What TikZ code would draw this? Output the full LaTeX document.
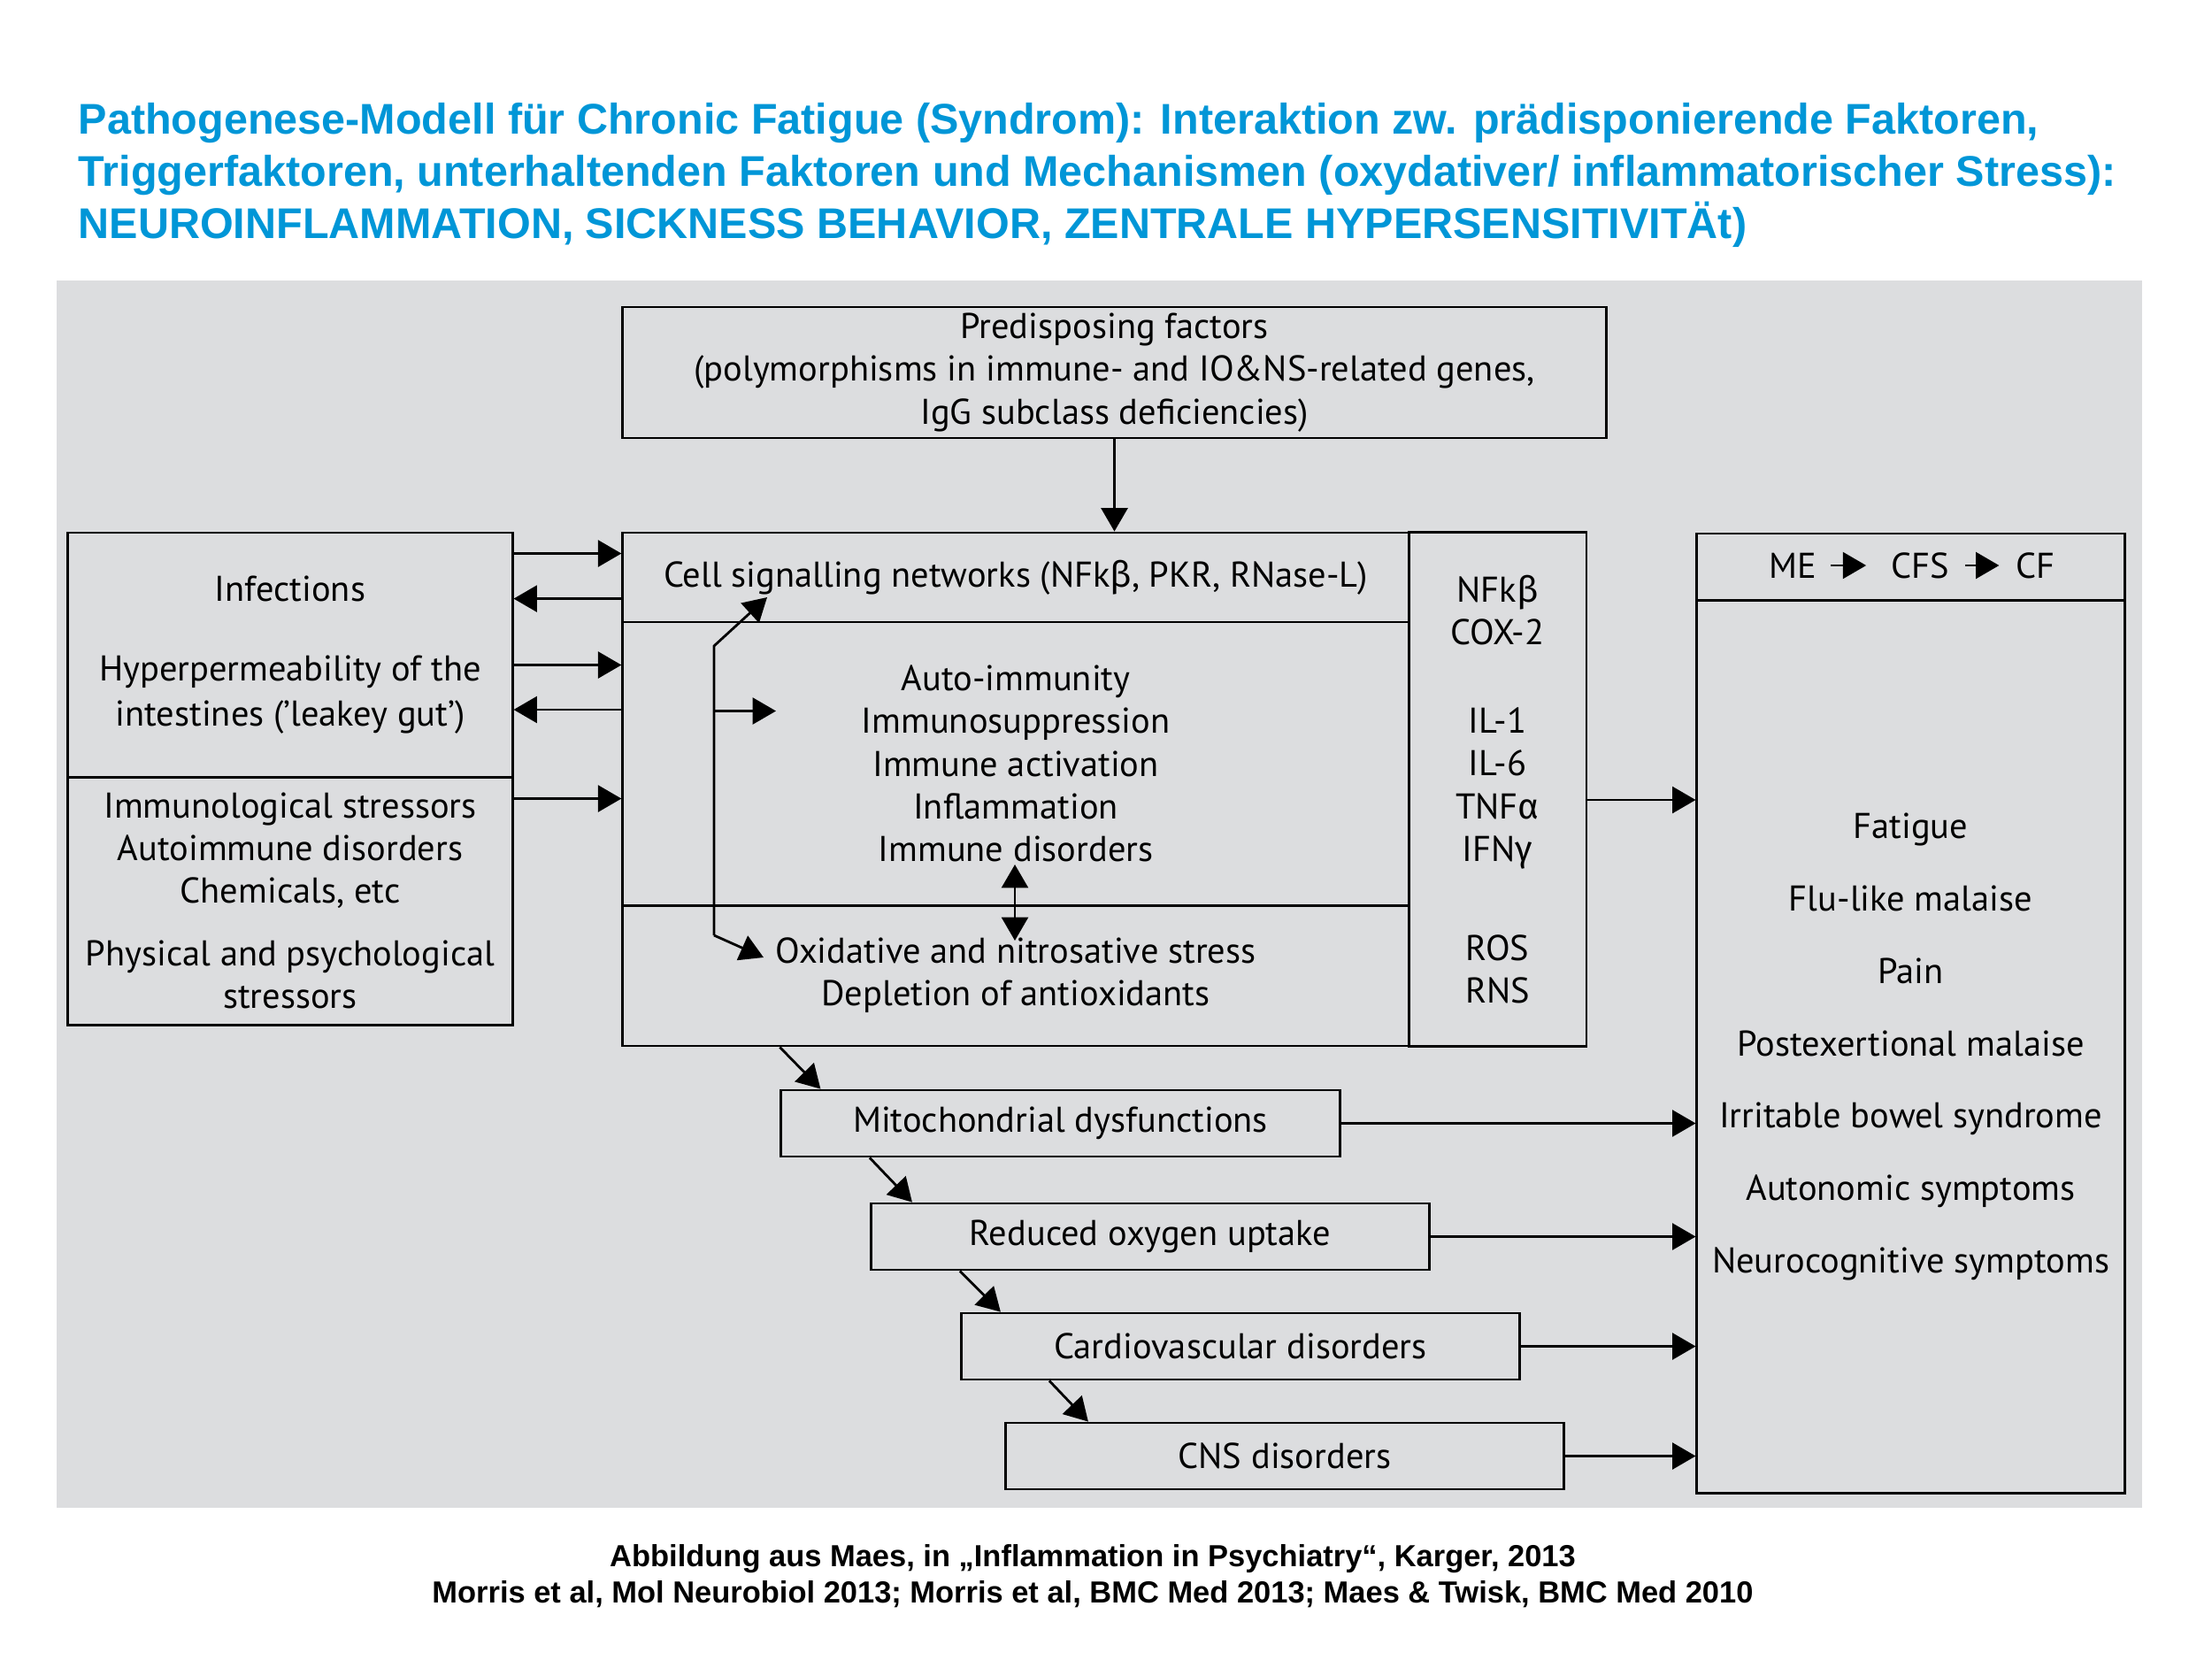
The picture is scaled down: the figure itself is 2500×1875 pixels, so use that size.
\documentclass[tikz,border=0pt]{standalone}
\usepackage{fontspec}
\setmainfont{PT Sans}
\newfontfamily\titlefont{Liberation Sans}
\newfontfamily\grk{Fira Sans}
\usetikzlibrary{arrows.meta, positioning, calc}
\definecolor{titleblue}{RGB}{0,150,215}
\definecolor{panelgray}{RGB}{220,221,223}

\begin{document}
\begin{tikzpicture}[
    x=0.01cm, y=-0.01cm,
    font=\fontsize{11.5}{13.7}\selectfont,
    every node/.style={align=center},
    box/.style   ={rectangle, draw, line width=0.8pt, inner sep=0pt},
    casc/.style  ={box, minimum width=6.31cm, minimum height=0.75cm},
    arr/.style   ={-{Triangle[length=7.5pt,width=8.5pt]}, line width=0.8pt},
    dblarr/.style={{Triangle[length=7.5pt,width=8.5pt]}-{Triangle[length=7.5pt,width=8.5pt]}, line width=0.8pt}
]
\useasboundingbox (0,0) rectangle (2500,1875);

% Title and source
\node[anchor=west, align=left, inner sep=0pt, text=titleblue,
      font=\titlefont\bfseries\fontsize{13.8}{16.8}\selectfont] (title) at (88,198)
  {Pathogenese-Modell für Chronic Fatigue (Syndrom): Interaktion zw. prädisponierende Faktoren,\\
   Triggerfaktoren, unterhaltenden Faktoren und Mechanismen (oxydativer/ inflammatorischer Stress):\\
   NEUROINFLAMMATION, SICKNESS BEHAVIOR, ZENTRALE HYPERSENSITIVITÄt)};
\node[font=\titlefont\bfseries\fontsize{9.8}{11.8}\selectfont] (src) at (1235,1781)
  {Abbildung aus Maes, in „Inflammation in Psychiatry“, Karger, 2013\\
   Morris et al, Mol Neurobiol 2013; Morris et al, BMC Med 2013; Maes \& Twisk, BMC Med 2010};

% Panel
\fill[panelgray] (64,317) rectangle (2421,1704);

% Top
\node[box, minimum width=11.11cm, minimum height=1.48cm] (pre) at (1259.5,421)
  {Predisposing factors\\(polymorphisms in immune- and IO\&NS-related genes,\\IgG subclass deficiencies)};

% Left column
\node[box, minimum width=5.02cm, minimum height=2.76cm] (inf) at (328,740)
  {Infections\\[11.9pt]Hyperpermeability of the\\[1pt]intestines (’leakey gut’)};
\node[box, minimum width=5.02cm, minimum height=2.80cm] (stress) at (328,1018)
  {Immunological stressors\\Autoimmune disorders\\Chemicals, etc\\[6.5pt]Physical and psychological\\stressors};

% Middle block
\node[box, minimum width=8.88cm, minimum height=1.01cm] (cell) at (1148,652.5)
  {Cell signalling networks (NFk{\grk β}, PKR, RNase-L)};
\node[box, minimum width=8.88cm, minimum height=3.20cm] (imm) at (1148,863)
  {Auto-immunity\\Immunosuppression\\Immune activation\\Inflammation\\Immune disorders};
\node[box, minimum width=8.88cm, minimum height=1.59cm] (oxi) at (1148,1102.5)
  {Oxidative and nitrosative stress\\Depletion of antioxidants};
\node[box, minimum width=2.01cm, minimum height=5.80cm] (cyto) at (1692.5,892)
  {NFk{\grk β}\\COX-2\\[14.8pt]IL-1\\IL-6\\TNF{\grk α}\\IFN{\grk γ}\\[18.2pt]ROS\\RNS};

% Right column
\node[box, minimum width=4.83cm, minimum height=0.76cm] (hdr) at (2159.5,641) {};
\node[inner sep=0pt] (me)  at (2026,639) {ME};
\node[inner sep=0pt] (cfs) at (2170,639) {CFS};
\node[inner sep=0pt] (cf)  at (2300,639) {CF};
\node[box, minimum width=4.83cm, minimum height=10.08cm,
      font=\fontsize{11.5}{23.3}\selectfont] (sympt) at (2159.5,1183)
  {Fatigue\\Flu-like malaise\\Pain\\Postexertional malaise\\Irritable bowel syndrome\\Autonomic symptoms\\Neurocognitive symptoms};

% Cascade
\node[casc] (mito) at (1198.5,1269.5) {Mitochondrial dysfunctions};
\node[casc] (red)  at (1300,1397.5)   {Reduced oxygen uptake};
\node[casc] (card) at (1402,1521.5)   {Cardiovascular disorders};
\node[casc] (cns)  at (1452,1645.5)   {CNS disorders};

% Arrows top and header
\draw[arr] (pre.south) -- (pre.south |- cell.north);
\draw[arr, shorten <=4.5pt, shorten >=7.8pt] (me) -- (cfs);
\draw[arr, shorten <=5pt, shorten >=5.1pt] (cfs) -- (cf);

% Arrows left <-> middle
\coordinate (a1) at ($(inf.north east)+(0,25)$);
\coordinate (a2) at ($(cell.north west)+(0,76)$);
\coordinate (a3) at ($(inf.north east)+(0,151)$);
\coordinate (a4) at ($(imm.north west)+(0,100.5)$);
\coordinate (a5) at ($(stress.north east)+(0,26)$);
\draw[arr] (a1) -- (a1 -| cell.west);
\draw[arr] (a2) -- (a2 -| inf.east);
\draw[arr] (a3) -- (a3 -| imm.west);
\draw[arr] (a4) -- (a4 -| inf.east);
\draw[arr] (a5) -- (a5 -| imm.west);

% Arrows inside middle block
\coordinate (vtop)    at (807,730);
\coordinate (vbot)    at (807,1057);
\coordinate (tipcell) at (867,675);
\coordinate (tipimm)  at (877,803.5);
\coordinate (tipoxi)  at (863,1082);
\coordinate (dtop)    at (1147,977);
\coordinate (dbot)    at (1147,1063);
\draw[arr] (vbot) -- (vtop) -- (tipcell);
\draw[arr] (vtop |- tipimm) -- (tipimm);
\draw[arr] (vbot) -- (tipoxi);
\draw[dblarr] (dtop) -- (dbot);

% Arrows to symptoms
\draw[arr] ($(cyto.east)+(0,12)$) -- ($(cyto.east -| sympt.west)+(0,12)$);
\draw[arr] (mito.east) -- (mito.east -| sympt.west);
\draw[arr] (red.east)  -- (red.east -| sympt.west);
\draw[arr] (card.east) -- (card.east -| sympt.west);
\draw[arr] (cns.east)  -- (cns.east -| sympt.west);

% Cascade steps
\draw[arr] (mito.north west |- oxi.south) -- ($(mito.north west)+(46,0)$);
\draw[arr] (red.north west |- mito.south) -- ($(red.north west)+(48,0)$);
\draw[arr] (card.north west |- red.south) -- ($(card.north west)+(46,0)$);
\draw[arr] ($(cns.north west |- card.south)+(51,0)$) -- ($(cns.north west)+(95,0)$);
\end{tikzpicture}
\end{document}
